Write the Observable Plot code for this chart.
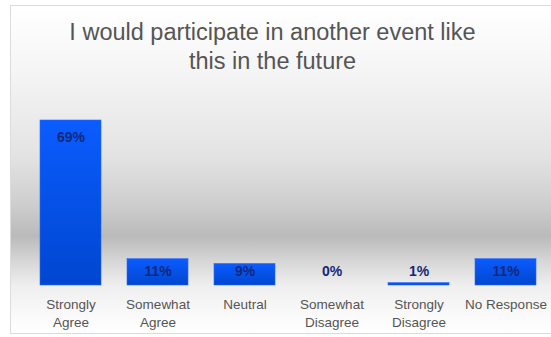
<!DOCTYPE html>
<html>
<head>
<meta charset="utf-8">
<script src="https://cdn.jsdelivr.net/npm/d3@7"></script>
<script src="https://cdn.jsdelivr.net/npm/@observablehq/plot@0.6"></script>
<style>
  html, body { margin: 0; padding: 0; background: #fff; }
  #wrap { position: relative; width: 551px; height: 337px; overflow: hidden; font-family: "Liberation Sans", Arial, sans-serif; }
  #frame { position: absolute; left: 10px; top: 5px; width: 560px; height: 327px; border: 1px solid #dcdcdc;
    background: linear-gradient(to bottom, #ffffff 0px, #f4f4f4 70px, #e3e3e3 150px, #cdcdcd 200px, #bababa 230px, #d6d6d6 255px, #efefef 280px, #fafafa 310px, #ffffff 327px); }
  #title { position: absolute; left: 0; width: 545px; top: 18px; text-align: center; font-size: 23.5px; line-height: 29px; color: #555; }
  #chart { position: absolute; left: 0; top: 90px; }
</style>
</head>
<body>
<div id="wrap">
  <div id="frame"></div>
  <div id="title">I would participate in another event like<br>this in the future</div>
  <div id="chart"></div>
</div>
<script>
const categories = ["Strongly Agree", "Somewhat Agree", "Neutral", "Somewhat Disagree", "Strongly Disagree", "No Response"];
const tickLabels = ["Strongly\nAgree", "Somewhat\nAgree", "Neutral", "Somewhat\nDisagree", "Strongly\nDisagree", "No Response"];
const values = [69, 11, 9, 0, 1, 11];
const valueLabels = ["69%", "11%", "9%", "0%", "1%", "11%"];

const data = categories.map((c, i) => ({category: c, value: values[i], label: valueLabels[i], tick: tickLabels[i]}));

const plot = Plot.plot({
  width: 551,
  height: 247,
  marginLeft: 27,
  marginRight: 2,
  marginTop: 30,
  marginBottom: 52,
  style: {background: "transparent", fontFamily: "'Liberation Sans', Arial, sans-serif"},
  x: {domain: categories, paddingInner: 0.3, paddingOuter: 0.15, axis: null},
  y: {domain: [0, 69], axis: null},
  marks: [
    Plot.barY(data, {x: "category", y: "value", fill: "url(#barGrad)", stroke: "#2a6cff", strokeWidth: 0.6}),
    Plot.text(data.filter(d => d.value > 20), {x: "category", y: "value", text: "label", dy: 17, fontWeight: "bold", fontSize: 14, fill: "#13287a"}),
    Plot.text(data.filter(d => d.value <= 20), {x: "category", y: () => 0, text: "label", dy: -14, fontWeight: "bold", fontSize: 14, fill: "#13287a"}),
    Plot.text(data, {x: "category", y: () => 0, text: "tick", dy: 11, lineAnchor: "top", lineHeight: 1.32, fontSize: 13.5, fill: "#555"})
  ]
});

const ns = "http://www.w3.org/2000/svg";
const defs = document.createElementNS(ns, "defs");
defs.innerHTML = '<linearGradient id="barGrad" x1="0" y1="0" x2="0" y2="1"><stop offset="0" stop-color="#0b5cff"/><stop offset="1" stop-color="#0046cf"/></linearGradient>';
plot.insertBefore(defs, plot.firstChild);
document.getElementById("chart").appendChild(plot);
</script>
</body>
</html>
